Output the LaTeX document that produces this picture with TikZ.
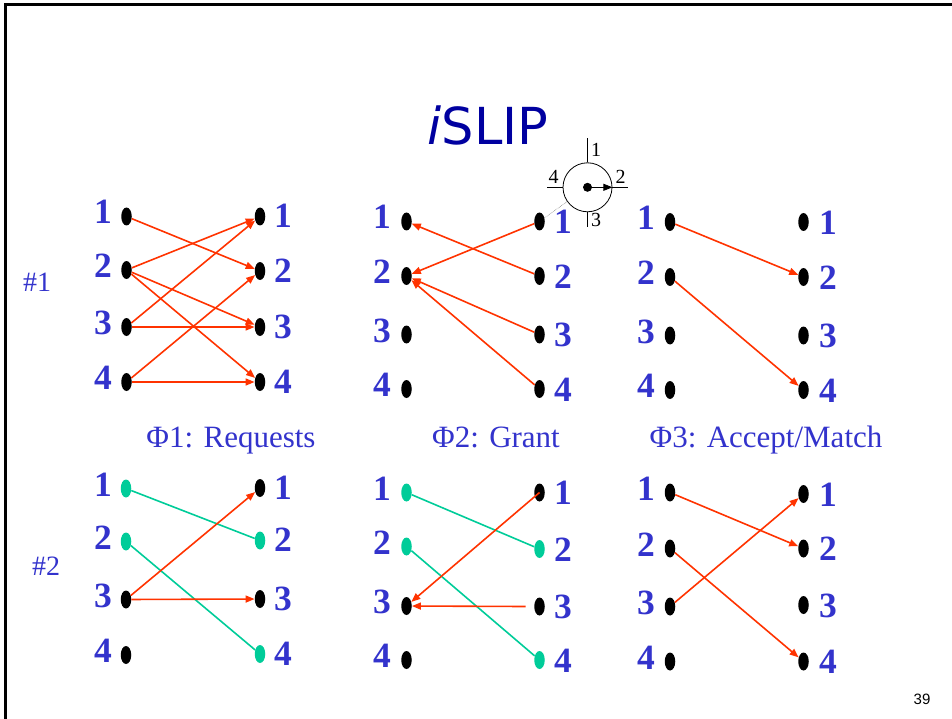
\documentclass[tikz,border=0pt]{standalone}
\usepackage{fontspec}
\setmainfont{Liberation Serif}
\newfontfamily\titlefont{DejaVu Sans}
\newfontfamily\pagefont{Liberation Sans}
\usetikzlibrary{arrows.meta,shapes.geometric}
\definecolor{numblue}{RGB}{51,51,204}
\definecolor{titleblue}{RGB}{0,0,160}
\definecolor{reqred}{RGB}{255,51,0}
\definecolor{matchgreen}{RGB}{0,204,153}
\tikzset{
  port/.style={ellipse, fill=black, minimum width=10.5pt, minimum height=18pt, inner sep=0pt},
  num/.style={font=\fontsize{35.5}{35.5}\selectfont\bfseries, text=numblue, anchor=base, inner sep=0pt},
  phase/.style={font=\fontsize{31}{31}\selectfont, text=numblue, anchor=base, inner sep=0pt},
  round/.style={font=\fontsize{28}{28}\selectfont, text=numblue, anchor=base, inner sep=0pt},
  req/.style={draw=reqred, line width=1.6pt, -{Triangle[length=9pt,width=7pt]}},
  link/.style={draw=matchgreen, line width=1.6pt},
  tick/.style={draw=black, line width=0.8pt},
  ticklabel/.style={font=\fontsize{20}{20}\selectfont, anchor=base, inner sep=0pt},
}
\begin{document}
\begin{tikzpicture}[x=1pt,y=-1pt]
\useasboundingbox (0,0) rectangle (952,719);
% slide frame
\draw[line width=2.5pt] (5.5,719) -- (5.5,4.5) -- (952,4.5);

% title
\node[font=\titlefont\fontsize{51}{51}\selectfont, text=titleblue, anchor=base, inner sep=0pt]
  (title) at (488,145) {\textit{i}SLIP};

% ---------- round #1 ----------
% requests
\foreach \i/\y in {1/216.5,2/270,3/327,4/382} {
  \node[port] (a-l\i) at (126.5,\y) {};
  \node[num] (a-ln\i) at (103,{\y+7.5}) {\i};
}
\foreach \i/\y in {1/216.5,2/271,3/327,4/382} {
  \node[port] (a-r\i) at (260,\y) {};
  \node[num] (a-rn\i) at (283,{\y+11}) {\i};
}
\draw[req] (a-l1) -- (a-r2);
\draw[req] (a-l2) -- (a-r1);
\draw[req] (a-l2) -- (a-r3);
\draw[req] (a-l2) -- (a-r4);
\draw[req] (a-l3) -- (a-r1);
\draw[req] (a-l3) -- (a-r3);
\draw[req] (a-l4) -- (a-r2);
\draw[req] (a-l4) -- (a-r4);

% grant
\foreach \i/\y in {1/221.5,2/276,3/334.5,4/389} {
  \node[port] (b-l\i) at (406.5,\y) {};
  \node[num] (b-ln\i) at (382,{\y+7.5}) {\i};
  \node[port] (b-r\i) at (539.5,\y) {};
  \node[num] (b-rn\i) at (563,{\y+12}) {\i};
}
\draw[req] (b-r1) -- (b-l2);
\draw[req] (b-r2) -- (b-l1);
\draw[req] (b-r3) -- (b-l2);
\draw[req] (b-r4) -- (b-l2);

% accept
\foreach \i/\y in {1/222,2/277,3/335.5,4/390} {
  \node[port] (c-l\i) at (670,\y) {};
  \node[num] (c-ln\i) at (646,{\y+7.5}) {\i};
  \node[port] (c-r\i) at (803.5,\y) {};
  \node[num] (c-rn\i) at (828,{\y+12}) {\i};
}
\draw[req] (c-l1) -- (c-r2);
\draw[req] (c-l2) -- (c-r4);

% round-robin pointer
\node[draw, circle, minimum size=49pt, inner sep=0pt, line width=0.8pt] (ptr) at (587.5,187.3) {};
\draw[tick] (ptr.north) -- ++(0,-24);
\draw[tick] (ptr.south) -- ++(0,15);
\draw[tick] (ptr.west) -- ++(-15.5,0);
\draw[tick] (ptr.east) -- ++(15.5,0);
\node[circle, fill=black, minimum size=9pt, inner sep=0pt] (hub) at (ptr.center) {};
\draw[line width=0.8pt, -{Triangle[length=9pt,width=7pt]}] (hub.center) -- (ptr.east);
\node[ticklabel] (pl1) at (596,157) {1};
\node[ticklabel] (pl2) at (620.5,184) {2};
\node[ticklabel] (pl3) at (596,227) {3};
\node[ticklabel] (pl4) at (553.5,184) {4};
\draw[gray!70!black, line width=0.5pt, densely dotted] (b-r1) -- (ptr.215);

% phase captions and round labels
\node[phase] (ph1) at (231,447) {Φ1: Requests};
\node[phase] (ph2) at (496,447) {Φ2: Grant};
\node[phase] (ph3) at (766,447) {Φ3: Accept/Match};
\node[round] (r1) at (37,291) {\#1};
\node[round] (r2) at (46,575) {\#2};

% ---------- round #2 ----------
% requests
\foreach \i/\y/\c in {1/488.5/matchgreen,2/541.5/matchgreen,3/599.5/black,4/655/black} {
  \node[port, fill=\c] (d-l\i) at (126,\y) {};
  \node[num] (d-ln\i) at (103,{\y+7.5}) {\i};
}
\foreach \i/\y/\c in {1/488/black,2/540.5/matchgreen,3/599/black,4/654/matchgreen} {
  \node[port, fill=\c] (d-r\i) at (260,\y) {};
  \node[num] (d-rn\i) at (283,{\y+11}) {\i};
}
\draw[link] (d-l1) -- (d-r2);
\draw[link] (d-l2) -- (d-r4);
\draw[req] (d-l3) -- (d-r1);
\draw[req] (d-l3) -- (d-r3);

% grant
\foreach \i/\y/\c in {1/492.5/matchgreen,2/546.5/matchgreen,3/606/black,4/660/black} {
  \node[port, fill=\c] (e-l\i) at (406.5,\y) {};
  \node[num] (e-ln\i) at (382,{\y+7.5}) {\i};
}
\foreach \i/\y/\c in {1/492.5/black,2/549/matchgreen,3/606.5/black,4/660/matchgreen} {
  \node[port, fill=\c] (e-r\i) at (539.5,\y) {};
  \node[num] (e-rn\i) at (563,{\y+12}) {\i};
}
\draw[link] (e-l1) -- (e-r2);
\draw[link] (e-l2) -- (e-r4);
\coordinate (e-r3s) at (525.5,606.5);
\draw[req] (e-r1.center) -- (e-l3);
\draw[req] (e-r3s) -- (e-l3);

% accept
\foreach \i/\y in {1/492.5,2/548.5,3/606.5,4/661.5} {
  \node[port] (f-l\i) at (670,\y) {};
  \node[num] (f-ln\i) at (646,{\y+7.5}) {\i};
}
\foreach \i/\y in {1/494,2/548.5,3/605,4/661.5} {
  \node[port] (f-r\i) at (803.5,\y) {};
  \node[num] (f-rn\i) at (828,{\y+12}) {\i};
}
\draw[req] (f-l1) -- (f-r2);
\draw[req] (f-l2) -- (f-r4);
\draw[req] (f-l3) -- (f-r1);

% slide number
\node[font=\pagefont\fontsize{15}{15}\selectfont, anchor=base, inner sep=0pt] (pageno) at (922,704) {39};
\end{tikzpicture}
\end{document}
